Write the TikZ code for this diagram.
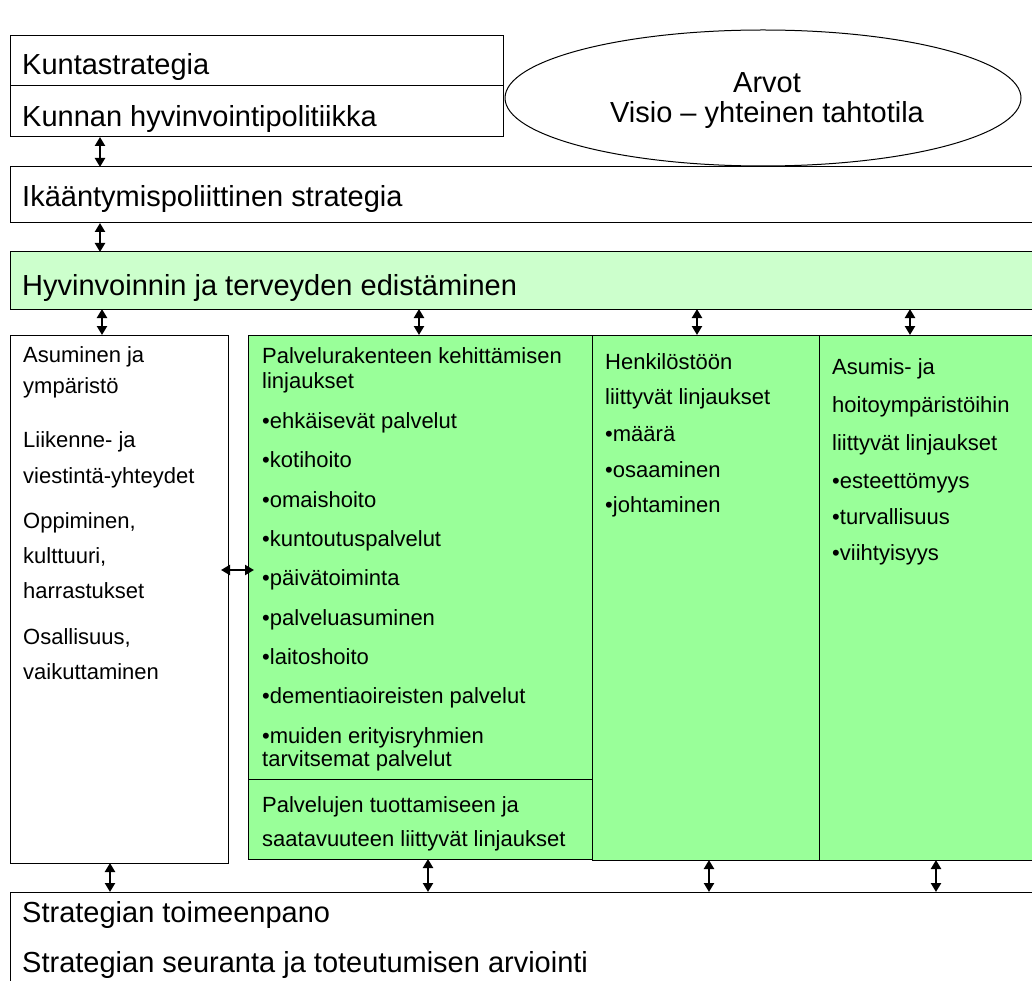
\documentclass[tikz,border=0pt]{standalone}
\usepackage{fontspec}
\setmainfont{Liberation Sans}
\usetikzlibrary{arrows.meta,shapes.geometric}
\definecolor{lightgreen}{RGB}{204,255,204}
\definecolor{midgreen}{RGB}{153,255,153}
\begin{document}
\begin{tikzpicture}[x=1pt,y=-1pt,
  wbox/.style={draw=black, line width=1pt, fill=white, anchor=north west, inner sep=0pt, outer sep=0pt},
  lgbox/.style={wbox, fill=lightgreen},
  gbox/.style={wbox, fill=midgreen},
  big/.style={anchor=base west, inner sep=0pt, font=\fontsize{29}{34}\selectfont},
  small/.style={anchor=base west, inner sep=0pt, font=\fontsize{22}{26}\selectfont},
  dbl/.style={{Triangle[width=10pt,length=9pt]}-{Triangle[width=10pt,length=9pt]}, line width=2.2pt}
]
\useasboundingbox (0,0) rectangle (1032,981);
\fill[white] (0,0) rectangle (1032,981);

% top boxes
\node[wbox, minimum width=493, minimum height=50] (kunta) at (10,36) {};
\node[wbox, minimum width=493, minimum height=51] (kunnan) at (10,86) {};
\node[ellipse, draw=black, line width=1pt, fill=white, minimum width=516, minimum height=136, inner sep=0pt] (arvot) at (763,98) {};
\node[wbox, minimum width=1030, minimum height=56] (ikaan) at (10,167) {};
\node[lgbox, minimum width=1030, minimum height=57] (hyvin) at (10,252) {};

% lower boxes
\node[wbox, minimum width=218, minimum height=528] (asum) at (10,335) {};
\node[gbox, minimum width=344, minimum height=444] (palv) at (248,335) {};
\node[gbox, minimum width=344, minimum height=80] (palvb) at (248,779) {};
\node[gbox, minimum width=227, minimum height=525] (henk) at (592,335) {};
\node[gbox, minimum width=221, minimum height=525] (asumis) at (819,335) {};
\node[wbox, minimum width=1030, minimum height=100] (toim) at (10,892) {};

% texts top
\node[big] (t-kunta) at (22,75) {Kuntastrategia};
\node[big] (t-kunnan) at (22,127) {Kunnan hyvinvointipolitiikka};
\node[anchor=base, inner sep=0pt, font=\fontsize{29}{34}\selectfont] (t-arvot) at (767,93) {Arvot};
\node[anchor=base, inner sep=0pt, font=\fontsize{29}{34}\selectfont] (t-visio) at (767,123) {Visio – yhteinen tahtotila};
\node[big] (t-ikaan) at (22,207) {Ikääntymispoliittinen strategia};
\node[big] (t-hyvin) at (22,295) {Hyvinvoinnin ja terveyden edistäminen};

% left column
\node[small] (a1) at (23,362) {Asuminen ja};
\node[small] (a2) at (23,393) {ympäristö};
\node[small] (a3) at (23,447) {Liikenne- ja};
\node[small] (a4) at (23,483) {viestintä-yhteydet};
\node[small] (a5) at (23,528) {Oppiminen,};
\node[small] (a6) at (23,563) {kulttuuri,};
\node[small] (a7) at (23,598) {harrastukset};
\node[small] (a8) at (23,644) {Osallisuus,};
\node[small] (a9) at (23,679) {vaikuttaminen};

% middle column
\node[small] (p1) at (262,363) {Palvelurakenteen kehittämisen};
\node[small] (p2) at (262,388) {linjaukset};
\node[small] (p3) at (262,428) {•ehkäisevät palvelut};
\node[small] (p4) at (262,467) {•kotihoito};
\node[small] (p5) at (262,507) {•omaishoito};
\node[small] (p6) at (262,546) {•kuntoutuspalvelut};
\node[small] (p7) at (262,585) {•päivätoiminta};
\node[small] (p8) at (262,625) {•palveluasuminen};
\node[small] (p9) at (262,664) {•laitoshoito};
\node[small] (p10) at (262,703) {•dementiaoireisten palvelut};
\node[small] (p11) at (262,743) {•muiden erityisryhmien};
\node[small] (p12) at (262,766) {tarvitsemat palvelut};
\node[small] (p13) at (262,812) {Palvelujen tuottamiseen ja};
\node[small] (p14) at (262,846) {saatavuuteen liittyvät linjaukset};

% henkilöstö column
\node[small] (h1) at (605,369) {Henkilöstöön};
\node[small] (h2) at (605,404) {liittyvät linjaukset};
\node[small] (h3) at (605,441) {•määrä};
\node[small] (h4) at (605,477) {•osaaminen};
\node[small] (h5) at (605,512) {•johtaminen};

% asumis column
\node[small] (s1) at (832,374) {Asumis- ja};
\node[small] (s2) at (832,412) {hoitoympäristöihin};
\node[small] (s3) at (832,450) {liittyvät linjaukset};
\node[small] (s4) at (832,488) {•esteettömyys};
\node[small] (s5) at (832,524) {•turvallisuus};
\node[small] (s6) at (832,560) {•viihtyisyys};

% bottom texts
\node[big] (b1) at (22,922) {Strategian toimeenpano};
\node[big] (b2) at (22,972) {Strategian seuranta ja toteutumisen arviointi};

% arrows
\draw[dbl] ([xshift=90]kunnan.south west) -- ([xshift=90]ikaan.north west);
\draw[dbl] ([xshift=90]ikaan.south west) -- ([xshift=90]hyvin.north west);
\draw[dbl] ([xshift=92]hyvin.south west) -- ([xshift=92]asum.north west);
\draw[dbl] ([xshift=409]hyvin.south west) -- ([xshift=171]palv.north west);
\draw[dbl] ([xshift=687]hyvin.south west) -- ([xshift=105]henk.north west);
\draw[dbl] ([xshift=900]hyvin.south west) -- ([xshift=91]asumis.north west);

\draw[dbl] ([xshift=100]asum.south west) -- ([xshift=100]toim.north west);
\draw[dbl] ([xshift=180]palvb.south west) -- ([xshift=418]toim.north west);
\draw[dbl] ([xshift=117]henk.south west) -- ([xshift=699]toim.north west);
\draw[dbl] ([xshift=117]asumis.south west) -- ([xshift=926]toim.north west);

\coordinate (lr1) at (221,570);
\coordinate (lr2) at (254,570);
\draw[dbl] (lr1) -- (lr2);
\end{tikzpicture}
\end{document}
